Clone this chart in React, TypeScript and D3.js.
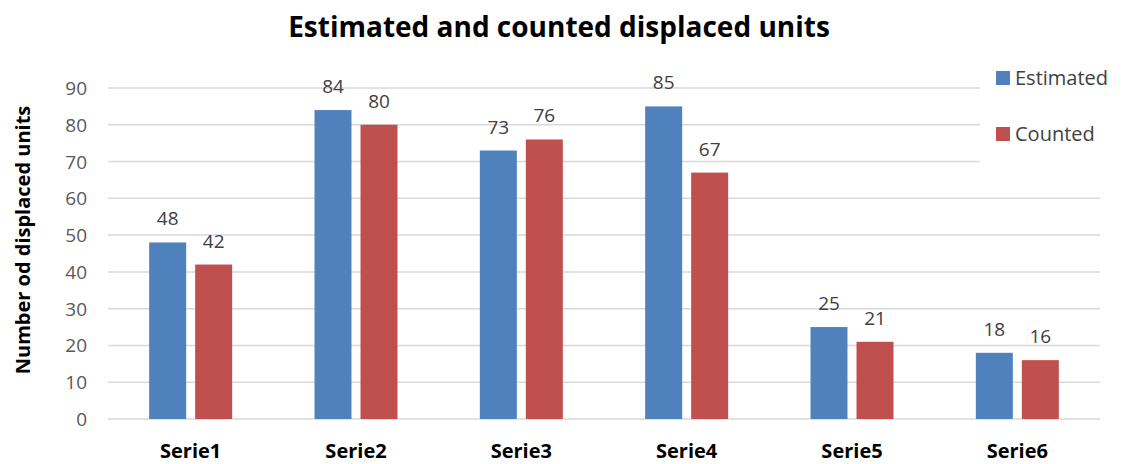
import React from 'react';
import * as d3 from 'd3';

const categories = ['Serie1', 'Serie2', 'Serie3', 'Serie4', 'Serie5', 'Serie6'];
const estimated = [48, 84, 73, 85, 25, 18];
const counted = [42, 80, 76, 67, 21, 16];
const yTicks = [0, 10, 20, 30, 40, 50, 60, 70, 80, 90];
const seriesNames = ['Estimated', 'Counted'];
const colors = ['#4F81BD', '#C0504D'];

const W = 1125;
const H = 464;
const font = '"Open Sans", Lato, sans-serif';

const App = () => {
  const x0 = 108;
  const x1 = 1100;
  const yBottom = 419;
  const yTop = 88;

  const x = d3.scaleBand().domain(categories).range([x0, x1]).padding(0);
  const y = d3.scaleLinear().domain([0, 90]).range([yBottom, yTop]);

  const barW = 37;
  const gap = 9;

  const series = [estimated, counted];

  return (
    <svg width={W} height={H} style={{ position: 'absolute', left: 0, top: 0, background: '#fff' }}>
      <text x={559} y={37} textAnchor="middle" fontFamily={font} fontWeight="bold" fontSize={28} fill="#000">
        Estimated and counted displaced units
      </text>

      {/* gridlines */}
      {yTicks.map((t) => (
        <line key={t} x1={x0} x2={x1} y1={y(t)} y2={y(t)} stroke="#D9D9D9" strokeWidth={1.5} />
      ))}

      {/* y tick labels */}
      {yTicks.map((t) => (
        <text key={t} x={87} y={y(t) + 7} textAnchor="end" fontFamily={font} fontSize={19} fill="#595959">
          {t}
        </text>
      ))}

      <text
        transform={`translate(30, 240) rotate(-90)`}
        textAnchor="middle"
        fontFamily={font}
        fontWeight="bold"
        fontSize={20}
        fill="#000"
      >
        Number od displaced units
      </text>

      {/* bars */}
      {categories.map((c, i) => {
        const cx = (x(c) as number) + x.bandwidth() / 2;
        return (
          <g key={c}>
            {series.map((s, j) => {
              const bx = j === 0 ? cx - gap / 2 - barW : cx + gap / 2;
              return (
                <g key={j}>
                  <rect x={bx} y={y(s[i])} width={barW} height={yBottom - y(s[i])} fill={colors[j]} />
                  <text
                    x={bx + barW / 2}
                    y={y(s[i]) - 17}
                    textAnchor="middle"
                    fontFamily={font}
                    fontSize={19}
                    fill="#404040"
                  >
                    {s[i]}
                  </text>
                </g>
              );
            })}
            <text x={cx} y={458} textAnchor="middle" fontFamily={font} fontWeight="bold" fontSize={20} fill="#000">
              {c}
            </text>
          </g>
        );
      })}

      {/* legend */}
      <rect x={980} y={58} width={145} height={120} fill="#fff" />
      {seriesNames.map((n, j) => (
        <g key={n}>
          <rect x={996} y={71 + j * 56} width={14} height={14} fill={colors[j]} />
          <text x={1015} y={85 + j * 56} fontFamily={font} fontSize={20} fill="#404040">
            {n}
          </text>
        </g>
      ))}
    </svg>
  );
};

export default App;
